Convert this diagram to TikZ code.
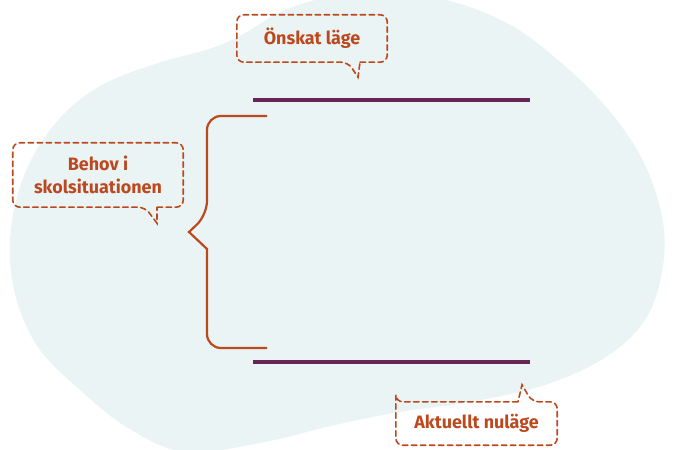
\documentclass[tikz,border=0pt]{standalone}
\usepackage{fontspec}
\setmainfont{Fira Sans}
\usetikzlibrary{calc}
\definecolor{rust}{RGB}{188,72,30}
\definecolor{plum}{RGB}{104,38,88}
\definecolor{mist}{RGB}{234,244,245}

\begin{document}
\begin{tikzpicture}[x=1bp,y=-1bp,
    label text/.style={font=\fontsize{18}{23}\selectfont\bfseries,text=rust,align=center,inner sep=0pt},
    bubble/.style={draw=rust,line width=1.6bp,dash pattern=on 5.5bp off 3.5bp,line cap=round},
    level/.style={draw=plum,line width=4.5bp},
    brace line/.style={draw=rust,line width=2.2bp}
]
\useasboundingbox (0,0) rectangle (675,450);

% Background blob
\begin{scope}
\clip (0,0) rectangle (675,450);
\fill[mist] plot[smooth cycle,tension=0.6] coordinates {
  (285,10) (340,-4) (430,-3) (505,22) (565,66) (612,114) (645,165) (663,222)
  (662,272) (645,320) (606,357) (545,385) (470,402) (400,412) (335,425)
  (260,443) (185,452) (128,428) (80,390) (40,350) (18,305) (10,258)
  (14,210) (30,162) (60,118) (100,86) (155,64) (212,48) (245,33)};
\end{scope}

% Levels
\draw[level] (253,100) -- (530,100);
\draw[level] (253,362) -- (530,362);

% Brace
\draw[brace line,rounded corners=14bp] (267,116) -- (207,116) -- (207,215)
  [sharp corners] -- (189,232) -- (207,249) [rounded corners=14bp] -- (207,348) -- (267,348);

% Callouts
\node[label text,minimum width=150bp,minimum height=47bp] (goal) at (312,38.5) {Önskat läge};
\node[label text,minimum width=170bp,minimum height=64bp] (need) at (98,175) {Behov i\\skolsituationen};
\node[label text,minimum width=161bp,minimum height=43bp] (now) at (476.5,423.5) {Aktuellt nuläge};

\draw[bubble,rounded corners=7bp] ($(goal.south)+(48,0)$) -| (goal.north east) -| (goal.south west)
  -- ($(goal.south)+(36,0)$) [sharp corners] -- ($(goal.south)+(46,15)$) -- cycle;
\draw[bubble,rounded corners=7bp] ($(need.south)+(59,0)$) -| (need.north east) -| (need.south west)
  -- ($(need.south)+(47,0)$) [sharp corners] -- ($(need.south)+(59,16)$) -- cycle;
\draw[bubble,rounded corners=7bp] ($(now.north)+(41.5,0)$) -| (now.north west) |- (now.south east)
  |- ($(now.north)+(55.5,0)$) [sharp corners] -- ($(now.north)+(45.5,-17)$) -- cycle;

\end{tikzpicture}
\end{document}
